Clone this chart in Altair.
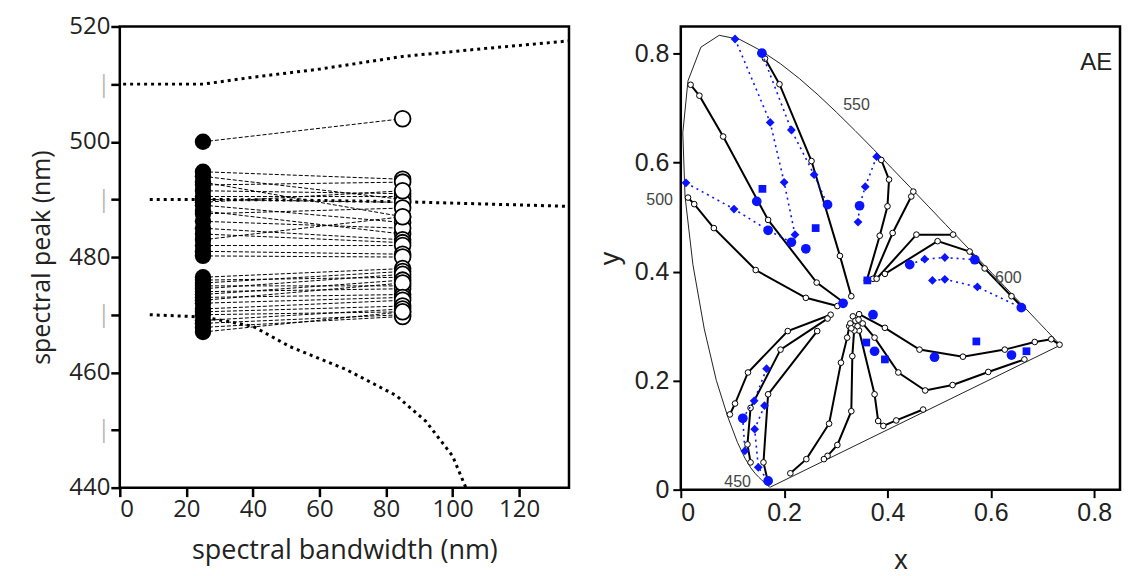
import altair as alt
import pandas as pd

# ---------------- left panel data ----------------
BW_FILLED = 25
BW_OPEN = 85
PEAK_FILLED = [500.0, 494.8, 494.0, 493.0, 492.5, 491.5, 490.5, 490.0, 489.5, 489.0, 488.0, 487.5,
               486.2, 485.0, 484.0, 483.0, 482.0, 481.0, 480.2, 476.5, 476.0, 475.5, 475.0, 474.5,
               474.0, 473.5, 473.0, 472.5, 472.0, 471.0, 470.5, 470.0, 469.0, 468.5, 467.8, 467.0]
PEAK_OPEN = [504.0, 493.5, 490.0, 487.0, 493.0, 491.0, 490.5, 489.5, 491.5, 486.0, 484.0, 488.5,
             485.0, 483.0, 482.5, 487.0, 482.0, 480.5, 480.0, 478.0, 476.5, 477.5, 475.0, 477.0,
             474.5, 476.0, 473.5, 475.5, 473.0, 472.5, 471.5, 470.5, 471.0, 470.0, 469.7, 470.5]

TOP_BW = [1, 10, 25, 40, 60, 85, 110, 135]
TOP_PEAK = [510.0, 510.0, 510.0, 511.2, 512.6, 514.8, 516.2, 517.5]
MID_BW = [9, 25, 50, 85, 110, 135]
MID_PEAK = [490.0, 490.0, 489.9, 489.6, 489.2, 488.8]
BOT_BW = [9, 25, 40, 51, 68, 83, 92, 100, 104]
BOT_PEAK = [470.0, 469.6, 468.0, 464.5, 460.5, 456.0, 451.5, 445.5, 440.0]

LEFT_Y_TICKS = [440, 450, 460, 470, 480, 490, 500, 510, 520]
LEFT_X_TICKS = [0, 20, 40, 60, 80, 100, 120]

# ---------------- right panel data ----------------
LOCUS_X = [0.1741, 0.1733, 0.1714, 0.1689, 0.1644, 0.1611, 0.1566, 0.1510, 0.1440, 0.1355,
           0.1241, 0.1096, 0.0913, 0.0687, 0.0454, 0.0235, 0.0082, 0.0039, 0.0139, 0.0389,
           0.0743, 0.1142, 0.1547, 0.1929, 0.2296, 0.2658, 0.3016, 0.3373, 0.3731, 0.4087,
           0.4441, 0.4788, 0.5125, 0.5448, 0.5752, 0.6029, 0.6270, 0.6482, 0.6658, 0.6915,
           0.7079, 0.7190, 0.7260, 0.7347, 0.1741]
LOCUS_Y = [0.0050, 0.0048, 0.0051, 0.0069, 0.0109, 0.0138, 0.0177, 0.0227, 0.0297, 0.0399,
           0.0578, 0.0868, 0.1327, 0.2007, 0.2950, 0.4127, 0.5384, 0.6548, 0.7502, 0.8120,
           0.8338, 0.8262, 0.8059, 0.7816, 0.7543, 0.7243, 0.6923, 0.6589, 0.6245, 0.5896,
           0.5547, 0.5202, 0.4866, 0.4544, 0.4242, 0.3965, 0.3725, 0.3514, 0.3340, 0.3083,
           0.2920, 0.2809, 0.2740, 0.2653, 0.0050]

HUE_X = [
    [0.316, 0.263, 0.169, 0.082, 0.036, 0.019],
    [0.303, 0.242, 0.145, 0.064, 0.026, 0.014],
    [0.330, 0.308, 0.253, 0.191, 0.163],
    [0.360, 0.385, 0.400, 0.403, 0.388],
    [0.372, 0.410, 0.446, 0.450],
    [0.379, 0.456, 0.527],
    [0.395, 0.497, 0.559, 0.588, 0.640, 0.662],
    [0.345, 0.395, 0.462, 0.546, 0.627, 0.685, 0.717, 0.733],
    [0.352, 0.375, 0.421, 0.473, 0.526, 0.595, 0.665],
    [0.345, 0.375, 0.382, 0.392, 0.417, 0.469],
    [0.336, 0.332, 0.330, 0.303, 0.284, 0.277],
    [0.326, 0.322, 0.310, 0.287, 0.243, 0.212],
    [0.290, 0.207, 0.130, 0.105, 0.095],
    [0.284, 0.193, 0.135, 0.129, 0.135],
    [0.264, 0.169, 0.160, 0.169],
]
HUE_Y = [
    [0.343, 0.380, 0.495, 0.648, 0.723, 0.743],
    [0.337, 0.352, 0.403, 0.480, 0.524, 0.536],
    [0.355, 0.429, 0.603, 0.744, 0.791],
    [0.384, 0.466, 0.520, 0.569, 0.605],
    [0.387, 0.471, 0.538, 0.547],
    [0.387, 0.468, 0.468],
    [0.396, 0.456, 0.437, 0.406, 0.355, 0.334],
    [0.322, 0.297, 0.257, 0.244, 0.257, 0.271, 0.276, 0.266],
    [0.305, 0.279, 0.215, 0.182, 0.192, 0.216, 0.239],
    [0.292, 0.175, 0.126, 0.117, 0.127, 0.147],
    [0.300, 0.245, 0.144, 0.082, 0.062, 0.056],
    [0.300, 0.279, 0.233, 0.121, 0.056, 0.030],
    [0.321, 0.291, 0.215, 0.158, 0.138],
    [0.314, 0.257, 0.150, 0.083, 0.050],
    [0.291, 0.175, 0.050, 0.013],
]
CENTER_X = [0.333, 0.338, 0.328, 0.342, 0.336, 0.330, 0.344]
CENTER_Y = [0.318, 0.310, 0.305, 0.300, 0.292, 0.296, 0.312]

BLUE_LINE_X = [
    [0.105, 0.173, 0.200, 0.221],
    [0.157, 0.214, 0.258, 0.284],
    [0.010, 0.103, 0.169, 0.214],
    [0.379, 0.357, 0.346, 0.343],
    [0.443, 0.472, 0.511, 0.569],
    [0.487, 0.511, 0.574, 0.659],
    [0.166, 0.142, 0.120, 0.124],
    [0.162, 0.143, 0.150, 0.169],
]
BLUE_LINE_Y = [
    [0.827, 0.674, 0.564, 0.468],
    [0.801, 0.660, 0.578, 0.523],
    [0.563, 0.515, 0.476, 0.454],
    [0.611, 0.556, 0.521, 0.491],
    [0.413, 0.423, 0.426, 0.422],
    [0.384, 0.386, 0.372, 0.334],
    [0.222, 0.163, 0.131, 0.071],
    [0.154, 0.111, 0.041, 0.016],
]
BLUE_LINE_SHAPE = [
    ["diamond", "diamond", "diamond", "diamond"],
    ["circle", "diamond", "diamond", "circle"],
    ["diamond", "diamond", "circle", "circle"],
    ["diamond", "diamond", "circle", "diamond"],
    ["circle", "diamond", "diamond", "circle"],
    ["diamond", "diamond", "diamond", "circle"],
    ["diamond", "diamond", "circle", "diamond"],
    ["diamond", "diamond", "diamond", "circle"],
]
BLUE_PT_X = [0.147, 0.158, 0.242, 0.261, 0.314, 0.361, 0.372, 0.359, 0.375, 0.395, 0.491, 0.640, 0.572, 0.669]
BLUE_PT_Y = [0.529, 0.552, 0.442, 0.480, 0.342, 0.384, 0.321, 0.270, 0.254, 0.239, 0.243, 0.247, 0.272, 0.254]
BLUE_PT_SHAPE = ["circle", "square", "circle", "square", "circle", "square", "circle", "square",
                 "circle", "square", "circle", "circle", "square", "square"]

WL_LABELS = ["500", "550", "600", "450"]
WL_X = [-0.041, 0.340, 0.634, 0.110]
WL_Y = [0.532, 0.706, 0.389, 0.014]

RIGHT_TICKS = [0.0, 0.2, 0.4, 0.6, 0.8]

# ---------------- build tables ----------------
pair_rows = []
for i, (pf, po) in enumerate(zip(PEAK_FILLED, PEAK_OPEN)):
    pair_rows.append({"pair": i, "bw": BW_FILLED, "peak": pf})
    pair_rows.append({"pair": i, "bw": BW_OPEN, "peak": po})
pairs_df = pd.DataFrame(pair_rows)
filled_df = pd.DataFrame({"bw": [BW_FILLED] * len(PEAK_FILLED), "peak": PEAK_FILLED})
open_df = pd.DataFrame({"bw": [BW_OPEN] * len(PEAK_OPEN), "peak": PEAK_OPEN})
curve_rows = []
for name, bws, pks in [("top", TOP_BW, TOP_PEAK), ("mid", MID_BW, MID_PEAK), ("bot", BOT_BW, BOT_PEAK)]:
    for k, (b, p) in enumerate(zip(bws, pks)):
        curve_rows.append({"curve": name, "i": k, "bw": b, "peak": p})
curves_df = pd.DataFrame(curve_rows)

LW, LH = 450, 462
LTICK = 9
xs = alt.Scale(domain=[0, 135], nice=False)
ys = alt.Scale(domain=[440, 520], nice=False)
FONT_L = "Open Sans"
TXT = "#222222"

x_enc = alt.X("bw:Q", scale=xs, axis=alt.Axis(
    values=LEFT_X_TICKS, title="spectral bandwidth (nm)", grid=False, domain=False,
    ticks=True, tickSize=LTICK, tickWidth=2.5, tickColor="black",
    labelFont=FONT_L, labelFontSize=24, labelColor=TXT, labelPadding=1,
    titleFont=FONT_L, titleFontSize=27, titleFontWeight="normal", titleColor=TXT, titlePadding=16))
y_enc = alt.Y("peak:Q", scale=ys, axis=alt.Axis(
    values=LEFT_Y_TICKS, title="spectral peak (nm)", grid=False, domain=False,
    ticks=True, tickSize=LTICK, tickWidth=2.5, tickColor="black",
    labelExpr="datum.value % 20 == 0 ? datum.label : '|'",
    labelColor={"condition": {"test": "datum.value % 20 != 0", "value": "#bbbbbb"}, "value": TXT},
    labelFont=FONT_L, labelFontSize=24, labelPadding=1,
    titleFont=FONT_L, titleFontSize=25, titleFontWeight="normal", titleColor=TXT, titlePadding=14))

curves = alt.Chart(curves_df).mark_line(color="black", strokeWidth=3, strokeDash=[3, 4]).encode(
    x=x_enc, y=y_enc, detail="curve:N", order="i:Q")
links = alt.Chart(pairs_df).mark_line(color="black", strokeWidth=1, strokeDash=[4, 2]).encode(
    x="bw:Q", y="peak:Q", detail="pair:N")
filled = alt.Chart(filled_df).mark_circle(color="black", size=270, opacity=1).encode(x="bw:Q", y="peak:Q")
opened = alt.Chart(open_df).mark_point(shape="circle", filled=True, fill="white", stroke="black",
                                       strokeWidth=1.8, size=250, opacity=1).encode(x="bw:Q", y="peak:Q")

left = alt.layer(curves, links, filled, opened).properties(width=LW, height=LH)

# ---------------- right panel ----------------
locus_df = pd.DataFrame({"x": LOCUS_X, "y": LOCUS_Y, "i": list(range(len(LOCUS_X)))})
hue_rows = []
for li, (hx, hy) in enumerate(zip(HUE_X, HUE_Y)):
    for k, (a, b) in enumerate(zip(hx, hy)):
        hue_rows.append({"line": li, "i": k, "x": a, "y": b})
hue_df = pd.DataFrame(hue_rows)
center_df = pd.DataFrame({"x": CENTER_X, "y": CENTER_Y})
blue_rows, blue_pts = [], []
for li, (bx, by, bs) in enumerate(zip(BLUE_LINE_X, BLUE_LINE_Y, BLUE_LINE_SHAPE)):
    for k, (a, b, s) in enumerate(zip(bx, by, bs)):
        blue_rows.append({"line": li, "i": k, "x": a, "y": b, "shape": s})
for a, b, s in zip(BLUE_PT_X, BLUE_PT_Y, BLUE_PT_SHAPE):
    blue_pts.append({"x": a, "y": b, "shape": s})
blue_line_df = pd.DataFrame(blue_rows)
blue_pt_df = pd.concat([blue_line_df[["x", "y", "shape"]], pd.DataFrame(blue_pts)], ignore_index=True)
wl_df = pd.DataFrame({"label": WL_LABELS, "x": WL_X, "y": WL_Y})

RW, RH = 440, 464
RTICK = 8
cx = alt.Scale(domain=[0, 0.85], nice=False)
cy = alt.Scale(domain=[0, 0.85], nice=False)
FONT_R = "Liberation Sans"
BLUE = "#0a14ff"

rx = alt.X("x:Q", scale=cx, axis=alt.Axis(
    values=RIGHT_TICKS, format=".1~f", title="x", grid=False, domain=False,
    ticks=True, tickSize=RTICK, tickWidth=2, tickColor="black",
    labelFont=FONT_R, labelFontSize=25, labelColor=TXT, labelPadding=3,
    titleFont=FONT_R, titleFontSize=27, titleFontWeight="normal", titleColor=TXT, titlePadding=22))
ry = alt.Y("y:Q", scale=cy, axis=alt.Axis(
    values=RIGHT_TICKS, format=".1~f", title="y", grid=False, domain=False,
    ticks=True, tickSize=RTICK, tickWidth=2, tickColor="black",
    labelFont=FONT_R, labelFontSize=25, labelColor=TXT, labelPadding=4,
    titleFont=FONT_R, titleFontSize=27, titleFontWeight="normal", titleColor=TXT, titlePadding=10))

locus = alt.Chart(locus_df).mark_line(color="#222222", strokeWidth=1).encode(x=rx, y=ry, order="i:Q")
hue_lines = alt.Chart(hue_df).mark_line(color="black", strokeWidth=2).encode(
    x="x:Q", y="y:Q", detail="line:N", order="i:Q")
hue_marks = alt.Chart(hue_df).mark_point(shape="circle", filled=True, fill="white", stroke="black",
                                         strokeWidth=1, size=32, opacity=1).encode(x="x:Q", y="y:Q")
center_marks = alt.Chart(center_df).mark_point(shape="circle", filled=True, fill="white", stroke="black",
                                               strokeWidth=1, size=32, opacity=1).encode(x="x:Q", y="y:Q")
blue_lines = alt.Chart(blue_line_df).mark_line(color=BLUE, strokeWidth=1.6, strokeDash=[2, 4]).encode(
    x="x:Q", y="y:Q", detail="line:N", order="i:Q")
blue_marks = alt.Chart(blue_pt_df).mark_point(filled=True, color=BLUE, opacity=1).encode(
    x="x:Q", y="y:Q",
    shape=alt.Shape("shape:N", scale=alt.Scale(domain=["circle", "diamond", "square"],
                                               range=["circle", "diamond", "square"]), legend=None),
    size=alt.Size("shape:N", scale=alt.Scale(domain=["circle", "diamond", "square"],
                                             range=[95, 60, 75]), legend=None))
wl_text = alt.Chart(wl_df).mark_text(font=FONT_R, fontSize=16, color="#444444").encode(
    x="x:Q", y="y:Q", text="label:N")
ae_text = alt.Chart(pd.DataFrame({"label": ["AE"], "x": [0.804], "y": [0.783]})).mark_text(
    font=FONT_R, fontSize=24, color=TXT).encode(x="x:Q", y="y:Q", text="label:N")

right = alt.layer(locus, hue_lines, hue_marks, center_marks, blue_lines, blue_marks,
                  wl_text, ae_text).properties(width=RW, height=RH)

chart = alt.hconcat(left, right, spacing=112).properties(
    bounds="flush", padding={"left": 20, "top": 4, "right": 0, "bottom": 0}
).configure_view(stroke="black", strokeWidth=2.5)

chart.save("out.html", embed_options={"renderer": "svg", "actions": False})
